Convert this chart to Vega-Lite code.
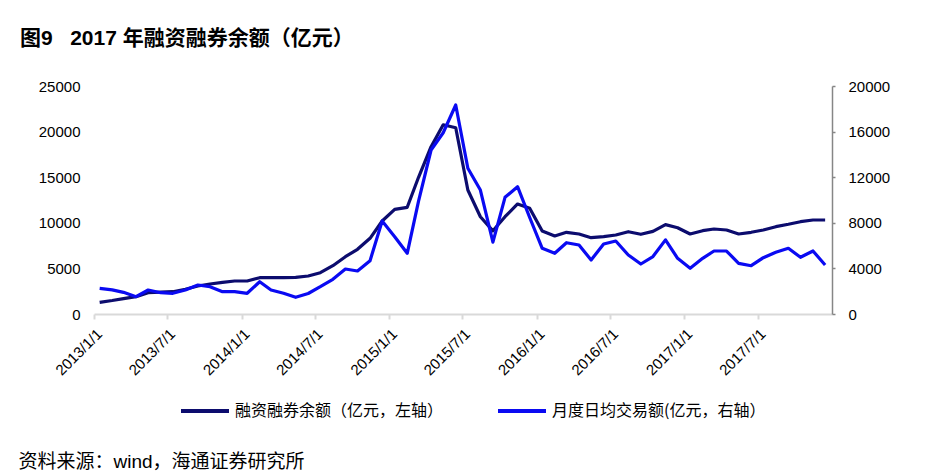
{
  "$schema": "https://vega.github.io/schema/vega-lite/v6.json",
  "autosize": "none",
  "width": 738,
  "height": 228,
  "padding": {"left": 94, "top": 86, "right": 107, "bottom": 162},
  "background": "white",
  "config": {
    "view": {"stroke": null},
    "font": "Liberation Sans, Noto Sans CJK SC"
  },
  "title": {
    "text": "图9\u00a0\u00a0\u00a02017 年融资融券余额（亿元）",
    "anchor": "start",
    "frame": "group",
    "dx": -74,
    "dy": 28,
    "baseline": "alphabetic",
    "offset": 41,
    "fontSize": 21,
    "fontWeight": "bold",
    "font": "Liberation Sans, Noto Sans CJK SC",
    "color": "#000000"
  },
  "data": {
    "values": [
      {"date": "2013/01/15", "balance": 1283, "turnover": 2254},
      {"date": "2013/02/15", "balance": 1480, "turnover": 2120},
      {"date": "2013/03/15", "balance": 1690, "turnover": 1900},
      {"date": "2013/04/15", "balance": 1897, "turnover": 1520},
      {"date": "2013/05/15", "balance": 2336, "turnover": 2105},
      {"date": "2013/06/15", "balance": 2400, "turnover": 1868},
      {"date": "2013/07/15", "balance": 2445, "turnover": 1816},
      {"date": "2013/08/15", "balance": 2708, "turnover": 2105},
      {"date": "2013/09/15", "balance": 3070, "turnover": 2544},
      {"date": "2013/10/15", "balance": 3290, "turnover": 2395},
      {"date": "2013/11/15", "balance": 3476, "turnover": 1956},
      {"date": "2013/12/15", "balance": 3618, "turnover": 1956},
      {"date": "2014/01/15", "balance": 3618, "turnover": 1816},
      {"date": "2014/02/15", "balance": 3980, "turnover": 2833},
      {"date": "2014/03/15", "balance": 3980, "turnover": 2105},
      {"date": "2014/04/15", "balance": 3980, "turnover": 1816},
      {"date": "2014/05/15", "balance": 4024, "turnover": 1465},
      {"date": "2014/06/15", "balance": 4167, "turnover": 1800},
      {"date": "2014/07/15", "balance": 4530, "turnover": 2395},
      {"date": "2014/08/15", "balance": 5297, "turnover": 3044},
      {"date": "2014/09/15", "balance": 6283, "turnover": 3947},
      {"date": "2014/10/15", "balance": 7094, "turnover": 3772},
      {"date": "2014/11/15", "balance": 8300, "turnover": 4675},
      {"date": "2014/12/15", "balance": 10197, "turnover": 8158},
      {"date": "2015/01/15", "balance": 11480, "turnover": 6781},
      {"date": "2015/02/15", "balance": 11699, "turnover": 5325},
      {"date": "2015/03/15", "balance": 14989, "turnover": 9900},
      {"date": "2015/04/15", "balance": 18345, "turnover": 14386},
      {"date": "2015/05/15", "balance": 20750, "turnover": 15900},
      {"date": "2015/06/15", "balance": 20420, "turnover": 18333},
      {"date": "2015/07/15", "balance": 13597, "turnover": 12781},
      {"date": "2015/08/15", "balance": 10669, "turnover": 10877},
      {"date": "2015/09/15", "balance": 9120, "turnover": 6300},
      {"date": "2015/10/15", "balance": 10669, "turnover": 10237},
      {"date": "2015/11/15", "balance": 12062, "turnover": 11167},
      {"date": "2015/12/15", "balance": 11590, "turnover": 8465},
      {"date": "2016/01/15", "balance": 9101, "turnover": 5763},
      {"date": "2016/02/15", "balance": 8553, "turnover": 5325},
      {"date": "2016/03/15", "balance": 8958, "turnover": 6254},
      {"date": "2016/04/15", "balance": 8772, "turnover": 6053},
      {"date": "2016/05/15", "balance": 8366, "turnover": 4737},
      {"date": "2016/06/15", "balance": 8476, "turnover": 6140},
      {"date": "2016/07/15", "balance": 8662, "turnover": 6404},
      {"date": "2016/08/15", "balance": 9024, "turnover": 5175},
      {"date": "2016/09/15", "balance": 8739, "turnover": 4386},
      {"date": "2016/10/15", "balance": 9060, "turnover": 5040},
      {"date": "2016/11/15", "balance": 9800, "turnover": 6500},
      {"date": "2016/12/15", "balance": 9463, "turnover": 4886},
      {"date": "2017/01/15", "balance": 8772, "turnover": 4009},
      {"date": "2017/02/15", "balance": 9134, "turnover": 4886},
      {"date": "2017/03/15", "balance": 9320, "turnover": 5526},
      {"date": "2017/04/15", "balance": 9211, "turnover": 5526},
      {"date": "2017/05/15", "balance": 8772, "turnover": 4447},
      {"date": "2017/06/15", "balance": 8958, "turnover": 4237},
      {"date": "2017/07/15", "balance": 9211, "turnover": 4939},
      {"date": "2017/08/15", "balance": 9573, "turnover": 5412},
      {"date": "2017/09/15", "balance": 9836, "turnover": 5763},
      {"date": "2017/10/15", "balance": 10121, "turnover": 4974},
      {"date": "2017/11/15", "balance": 10307, "turnover": 5526},
      {"date": "2017/12/15", "balance": 10307, "turnover": 4298}
    ]
  },
  "encoding": {
    "x": {
      "field": "date",
      "type": "temporal",
      "scale": {
        "domain": [{"year": 2013, "month": 1, "date": 1}, {"year": 2018, "month": 1, "date": 1}],
        "nice": false
      },
      "axis": {
        "values": [
          {"year": 2013, "month": 1, "date": 1},
          {"year": 2013, "month": 7, "date": 1},
          {"year": 2014, "month": 1, "date": 1},
          {"year": 2014, "month": 7, "date": 1},
          {"year": 2015, "month": 1, "date": 1},
          {"year": 2015, "month": 7, "date": 1},
          {"year": 2016, "month": 1, "date": 1},
          {"year": 2016, "month": 7, "date": 1},
          {"year": 2017, "month": 1, "date": 1},
          {"year": 2017, "month": 7, "date": 1}
        ],
        "format": "%Y/%-m/%-d",
        "labelAngle": -45,
        "labelAlign": "right",
        "labelBaseline": "middle",
        "labelFontSize": 15,
        "labelFont": "Liberation Sans",
        "labelColor": "#000000",
        "labelPadding": 12,
        "labelOffset": 5,
        "labelOverlap": false,
        "labelFlush": false,
        "domainColor": "#d9d9d9",
        "domainWidth": 2,
        "tickColor": "#d9d9d9",
        "tickWidth": 2,
        "tickSize": 5,
        "grid": false,
        "title": "资料来源：wind，海通证券研究所",
        "titleX": -76,
        "titleY": 147,
        "titleAlign": "left",
        "titleAnchor": null,
        "titleBaseline": "middle",
        "titleFont": "Liberation Sans, Noto Sans CJK SC",
        "titleFontSize": 19,
        "titleFontWeight": "normal",
        "titleColor": "#000000"
      }
    }
  },
  "layer": [
    {
      "mark": {"type": "line", "strokeWidth": 3.2, "strokeJoin": "round"},
      "encoding": {
        "y": {
          "field": "balance",
          "type": "quantitative",
          "scale": {"domain": [0, 25000], "nice": false, "zero": true},
          "axis": {
            "orient": "left",
            "values": [0, 5000, 10000, 15000, 20000, 25000],
            "format": "d",
            "domain": false,
            "ticks": false,
            "grid": false,
            "labelPadding": 14,
            "labelFontSize": 15,
            "labelFont": "Liberation Sans",
            "labelColor": "#000000",
            "title": null
          }
        },
        "color": {
          "datum": "融资融券余额（亿元，左轴）",
          "type": "nominal",
          "scale": {
            "domain": ["融资融券余额（亿元，左轴）", "月度日均交易额(亿元，右轴）"],
            "range": ["#0c0c6e", "#0a0af2"]
          },
          "legend": {
            "title": null,
            "orient": "none",
            "legendX": 85,
            "legendY": 299,
            "direction": "horizontal",
            "symbolType": "stroke",
            "symbolSize": 2304,
            "symbolStrokeWidth": 4,
            "labelFontSize": 16,
            "labelFont": "Noto Sans CJK SC",
            "labelColor": "#000000",
            "labelLimit": 0,
            "labelOffset": 4,
            "columnPadding": 46
          }
        }
      }
    },
    {
      "mark": {"type": "line", "strokeWidth": 3.2, "strokeJoin": "round"},
      "encoding": {
        "y": {
          "field": "turnover",
          "type": "quantitative",
          "scale": {"domain": [0, 20000], "nice": false, "zero": true},
          "axis": {
            "orient": "right",
            "values": [0, 4000, 8000, 12000, 16000, 20000],
            "format": "d",
            "domain": true,
            "domainColor": "#868686",
            "domainWidth": 1.5,
            "ticks": true,
            "tickColor": "#868686",
            "tickSize": 3,
            "tickWidth": 1.5,
            "grid": false,
            "labelPadding": 13,
            "labelFontSize": 15,
            "labelFont": "Liberation Sans",
            "labelColor": "#000000",
            "title": null
          }
        },
        "color": {"datum": "月度日均交易额(亿元，右轴）", "type": "nominal"}
      }
    }
  ],
  "resolve": {"scale": {"y": "independent"}}
}
